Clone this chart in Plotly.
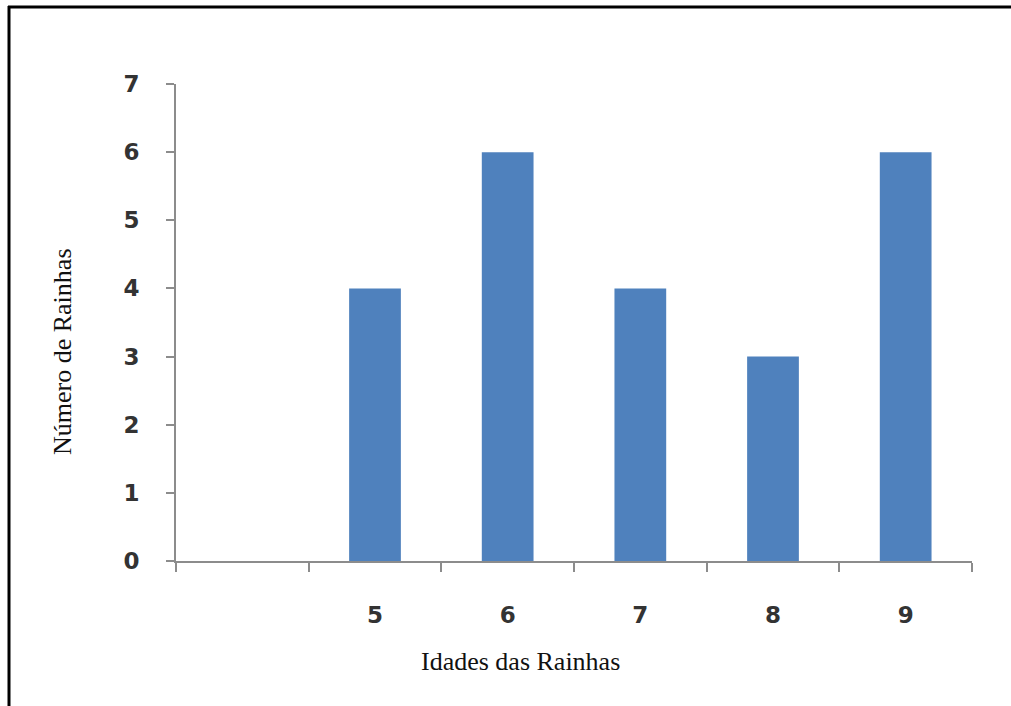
import plotly.graph_objects as go

# Queen ages (years) and number of queens per age
ages = ["5", "6", "7", "8", "9"]
queens = [4, 6, 4, 3, 6]
# An empty leading category keeps the first slot on the axis blank
categories = [" "] + ages
y_ticks = [0, 1, 2, 3, 4, 5, 6, 7]

W, H = 1011, 706
L, R, T, B = 176, 39, 84, 145
pw, ph = W - L - R, H - T - B

def px_to_paper_x(px):
    return (px - L) / pw

def py_to_paper_y(py):
    return (H - B - py) / ph

bar_color = "#4f81bd"
axis_color = "#8c8c8c"
tick_font = dict(family="DejaVu Sans", size=23, color="#333333", weight="bold")
title_font = dict(family="Liberation Serif", size=26, color="#111111")

fig = go.Figure(
    go.Bar(
        x=ages,
        y=queens,
        marker=dict(color=bar_color, line=dict(width=0)),
        hoverinfo="x+y",
    )
)

fig.update_layout(
    width=W,
    height=H,
    margin=dict(l=L, r=R, t=T, b=B),
    paper_bgcolor="white",
    plot_bgcolor="white",
    showlegend=False,
    bargap=0.61,
    xaxis=dict(
        type="category",
        categoryorder="array",
        categoryarray=categories,
        range=[-0.5, len(categories) - 0.5],
        tickson="boundaries",
        ticks="outside",
        ticklen=9,
        tickwidth=2,
        tickcolor=axis_color,
        showline=True,
        linecolor=axis_color,
        linewidth=2,
        showgrid=False,
        zeroline=False,
        tickfont=tick_font,
        ticklabelstandoff=32,
    ),
    yaxis=dict(
        range=[0, 7],
        tickvals=y_ticks,
        ticks="outside",
        ticklen=8,
        tickwidth=2,
        tickcolor=axis_color,
        showline=True,
        linecolor=axis_color,
        linewidth=2,
        showgrid=False,
        zeroline=False,
        tickfont=tick_font,
        ticklabelstandoff=22,
    ),
    annotations=[
        dict(
            text="Idades das Rainhas",
            x=px_to_paper_x(520),
            y=py_to_paper_y(661),
            xref="paper",
            yref="paper",
            xanchor="center",
            yanchor="middle",
            showarrow=False,
            font=title_font,
        ),
        dict(
            text="Número de Rainhas",
            x=px_to_paper_x(62),
            y=py_to_paper_y(351),
            xref="paper",
            yref="paper",
            xanchor="center",
            yanchor="middle",
            textangle=-90,
            showarrow=False,
            font=title_font,
        ),
    ],
    shapes=[
        # frame: top and left edges
        dict(
            type="line",
            xref="paper",
            yref="paper",
            x0=px_to_paper_x(8),
            x1=px_to_paper_x(W + 5),
            y0=py_to_paper_y(7),
            y1=py_to_paper_y(7),
            line=dict(color="black", width=3),
        ),
        dict(
            type="line",
            xref="paper",
            yref="paper",
            x0=px_to_paper_x(9),
            x1=px_to_paper_x(9),
            y0=py_to_paper_y(6),
            y1=py_to_paper_y(H + 5),
            line=dict(color="black", width=3),
        ),
    ],
)

fig.write_html("out.html")
